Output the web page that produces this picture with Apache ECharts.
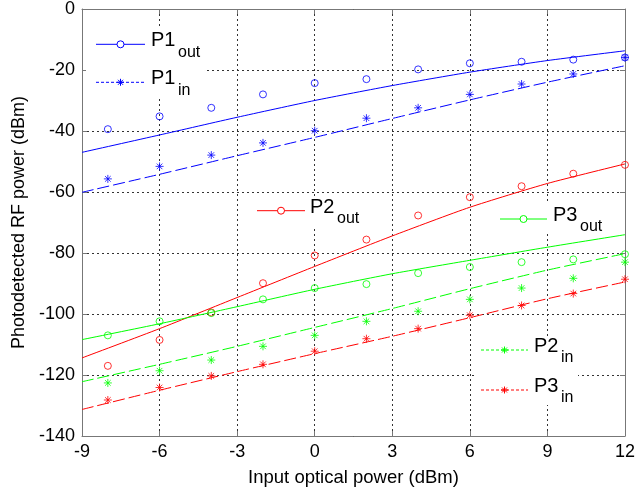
<!DOCTYPE html>
<html>
<head>
<meta charset="utf-8">
<script src="https://cdn.jsdelivr.net/npm/echarts@6/dist/echarts.min.js"></script>
<style>
html,body{margin:0;padding:0;background:#fff;}
#chart{width:638px;height:493px;}
</style>
</head>
<body>
<div id="chart"></div>
<script>
// ---- data ----
const xPts = [-8, -6, -4, -2, 0, 2, 4, 6, 8, 10, 12];
const xFit = [-9, -6, -3, 0, 3, 6, 9, 12];
const P1out = [-39.4, -35.2, -32.4, -28.0, -24.3, -23.0, -19.8, -17.8, -17.3, -16.6, -15.9];
const P1in  = [-55.7, -51.6, -47.9, -43.9, -39.9, -35.8, -32.4, -28.0, -24.6, -21.3, -15.9];
const P2out = [-117.0, -108.5, -99.5, -89.9, -80.8, -75.6, -67.7, -61.7, -58.1, -54.0, -51.1];
const P3out = [-107.0, -102.4, -99.7, -95.2, -91.5, -90.2, -86.6, -84.6, -83.0, -82.1, -80.4];
const P2in  = [-122.6, -118.6, -115.1, -110.6, -107.0, -102.4, -99.1, -95.2, -91.5, -88.3, -83.0];
const P3in  = [-128.2, -124.1, -120.3, -116.5, -112.2, -108.1, -104.8, -100.4, -97.2, -93.3, -88.6];
const P1outFit = [-47.0, -41.3, -35.5, -30.0, -25.1, -20.7, -16.9, -13.7];
const P1inFit  = [-60.1, -54.2, -48.1, -42.1, -35.9, -29.8, -24.0, -18.6];
const P2outFit = [-114.4, -104.8, -94.6, -84.4, -74.4, -65.0, -57.2, -50.8];
const P3outFit = [-108.4, -103.2, -97.6, -91.9, -86.8, -82.4, -78.1, -74.0];
const P2inFit  = [-122.2, -116.5, -110.6, -104.4, -98.2, -91.7, -85.6, -80.2];
const P3inFit  = [-131.3, -125.0, -118.9, -113.0, -107.3, -101.2, -95.0, -89.5];

const BLUE = '#0000ff', RED = '#ff0000', GREEN = '#00ff00';
const FONT = 'Liberation Sans, Arial, sans-serif';
const STAR = 'path://M1,0L1,2M0,1L2,1M0.3,0.3L1.7,1.7M0.3,1.7L1.7,0.3';

function zip(xs, ys) { return xs.map((x, i) => [x, ys[i]]); }

function scatter(name, ys, color, star) {
  return {
    name: name, type: 'scatter', data: zip(xPts, ys), z: 4,
    symbol: star ? STAR : 'circle',
    symbolSize: star ? 8 : 7,
    itemStyle: star ? { color: 'rgba(0,0,0,0)', borderColor: color, borderWidth: 1 }
                    : { color: 'rgba(255,255,255,0)', borderColor: color, borderWidth: 1 },
    silent: true
  };
}
function fit(name, ys, color, dashed) {
  return {
    name: name, type: 'line', data: zip(xFit, ys), showSymbol: false, symbol: 'none',
    smooth: 0.2, z: 3,
    lineStyle: { color: color, width: 1, type: dashed ? [12, 4] : 'solid' },
    silent: true
  };
}

// ---- legend decorations ----
function legendItem(x0, x1, y, color, dotted, star, main, sub, textX) {
  const els = [];
  els.push({ type: 'line', z: 5, shape: { x1: x0, y1: y, x2: x1, y2: y },
    style: { stroke: color, lineWidth: 1, lineDash: dotted ? [3, 2] : null } });
  const mx = (x0 + x1) / 2;
  if (star) {
    const r = 3.5, d = 2.5;
    [[0, -r, 0, r], [-r, 0, r, 0], [-d, -d, d, d], [-d, d, d, -d]].forEach(s => {
      els.push({ type: 'line', z: 5, shape: { x1: mx + s[0], y1: y + s[1], x2: mx + s[2], y2: y + s[3] },
        style: { stroke: color, lineWidth: 1 } });
    });
  } else {
    els.push({ type: 'circle', z: 5, shape: { cx: mx, cy: y, r: 3.5 },
      style: { fill: '#fff', stroke: color, lineWidth: 1 } });
  }
  els.push({ type: 'text', z: 5, x: textX, y: y - 3.5,
    style: { text: main, font: '20px ' + FONT, fill: '#000', textAlign: 'left', textVerticalAlign: 'middle' } });
  els.push({ type: 'text', z: 5, x: textX + 27, y: y + 8,
    style: { text: sub, font: '16px ' + FONT, fill: '#000', textAlign: 'left', textVerticalAlign: 'middle' } });
  return els;
}
function box(x, y, w, h) {
  return { type: 'rect', z: 1, shape: { x: x, y: y, width: w, height: h }, style: { fill: '#fff' } };
}

const graphics = [
  box(86, 27, 120, 72),
  box(250, 196, 116, 30),
  box(495, 203, 120, 31),
  box(477, 338, 101, 67)
].concat(
  legendItem(96, 145, 44.3, BLUE, false, false, 'P1', 'out', 151),
  legendItem(96, 145, 82.3, BLUE, true, true, 'P1', 'in', 151),
  legendItem(257, 305, 210.7, RED, false, false, 'P2', 'out', 310),
  legendItem(500, 547, 219, GREEN, false, false, 'P3', 'out', 553),
  legendItem(481, 528, 350, GREEN, true, true, 'P2', 'in', 534),
  legendItem(481, 528, 390, RED, true, true, 'P3', 'in', 534)
);

const gridLine = { show: true, lineStyle: { color: '#333', width: 1, type: [2, 3] } };
const axLine = { show: true, onZero: false, lineStyle: { color: '#777', width: 1 } };
const tick = { show: true, inside: true, length: 5, lineStyle: { color: '#777' } };
const lbl = { color: '#000', fontSize: 18, fontFamily: FONT };

const option = {
  animation: false,
  backgroundColor: '#fff',
  grid: { left: 82, right: 11, top: 8, bottom: 57, containLabel: false },
  xAxis: [
    { type: 'value', min: -9, max: 12, interval: 3, position: 'bottom',
      axisLine: axLine, axisTick: tick, splitLine: gridLine,
      axisLabel: Object.assign({ margin: 7 }, lbl),
      name: 'Input optical power (dBm)', nameLocation: 'middle', nameGap: 32,
      nameTextStyle: { color: '#000', fontSize: 18.5, fontFamily: FONT } },
    { type: 'value', min: -9, max: 12, interval: 3, position: 'top',
      axisLine: axLine, axisTick: tick, splitLine: { show: false }, axisLabel: { show: false } }
  ],
  yAxis: [
    { type: 'value', min: -140, max: 0, interval: 20, position: 'left',
      axisLine: axLine, axisTick: tick, splitLine: gridLine,
      axisLabel: Object.assign({ margin: 7 }, lbl),
      name: 'Photodetected RF power (dBm)', nameLocation: 'middle', nameGap: 54,
      nameTextStyle: { color: '#000', fontSize: 18, fontFamily: FONT } },
    { type: 'value', min: -140, max: 0, interval: 20, position: 'right',
      axisLine: axLine, axisTick: tick, splitLine: { show: false }, axisLabel: { show: false } }
  ],
  series: [
    fit('P1out fit', P1outFit, BLUE, false),
    fit('P1in fit', P1inFit, BLUE, true),
    fit('P2out fit', P2outFit, RED, false),
    fit('P3out fit', P3outFit, GREEN, false),
    fit('P2in fit', P2inFit, GREEN, true),
    fit('P3in fit', P3inFit, RED, true),
    scatter('P1out', P1out, BLUE, false),
    scatter('P1in', P1in, BLUE, true),
    scatter('P2out', P2out, RED, false),
    scatter('P3out', P3out, GREEN, false),
    scatter('P2in', P2in, GREEN, true),
    scatter('P3in', P3in, RED, true)
  ],
  graphic: graphics
};

const chart = echarts.init(document.getElementById('chart'), null, { renderer: 'canvas' });
chart.setOption(option);
</script>
</body>
</html>
